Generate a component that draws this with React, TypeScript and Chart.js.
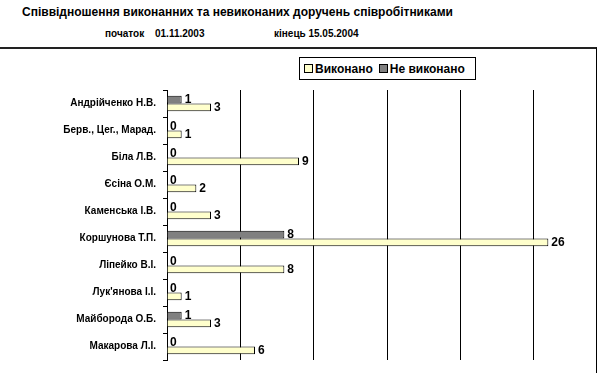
import React, { useEffect, useRef } from "react";
import { Chart, registerables } from "chart.js";

Chart.register(...registerables);

const categories = [
  "Андрійченко Н.В.",
  "Берв., Цег., Марад.",
  "Біла Л.В.",
  "Єсіна О.М.",
  "Каменська І.В.",
  "Коршунова Т.П.",
  "Ліпейко В.І.",
  "Лук'янова І.І.",
  "Майборода О.Б.",
  "Макарова Л.І.",
];
const doneValues = [3, 1, 9, 2, 3, 26, 8, 1, 3, 6];
const notDoneValues = [1, 0, 0, 0, 0, 8, 0, 0, 1, 0];
const seriesNames = ["Виконано", "Не виконано"];
const xMax = 30;
const xStep = 5;

const FONT = "'Liberation Sans', Arial, sans-serif";

const labelPlugin = {
  id: "barValueLabels",
  afterDatasetsDraw(chart: any) {
    const ctx = chart.ctx;
    ctx.save();
    ctx.font = `bold 12px ${FONT}`;
    ctx.fillStyle = "#000";
    ctx.textBaseline = "middle";
    ctx.textAlign = "left";
    chart.data.datasets.forEach((ds: any, di: number) => {
      const meta = chart.getDatasetMeta(di);
      meta.data.forEach((el: any, i: number) => {
        ctx.fillText(String(ds.data[i]), el.x + 3, el.y);
      });
    });
    ctx.restore();
  },
};

function ChartView() {
  const ref = useRef<HTMLCanvasElement>(null);
  useEffect(() => {
    if (!ref.current) return;
    const chart = new Chart(ref.current, {
      type: "bar",
      data: {
        labels: categories,
        datasets: [
          {
            label: seriesNames[1],
            data: notDoneValues,
            backgroundColor: "#808080",
            borderColor: "#000",
            borderWidth: 1,
            barPercentage: 1,
            categoryPercentage: 0.57,
          },
          {
            label: seriesNames[0],
            data: doneValues,
            backgroundColor: "#FFFFCC",
            borderColor: "#000",
            borderWidth: 1,
            barPercentage: 1,
            categoryPercentage: 0.57,
          },
        ],
      },
      options: {
        indexAxis: "y",
        responsive: false,
        animation: false,
        maintainAspectRatio: false,
        layout: { padding: { top: 90, left: 0, right: 13, bottom: 0 } },
        plugins: { legend: { display: false }, title: { display: false }, tooltip: { enabled: false } },
        scales: {
          x: {
            min: 0,
            max: xMax,
            ticks: { display: false, stepSize: xStep },
            grid: { color: "#000", drawTicks: false, lineWidth: 1 },
            border: { display: false },
          },
          y: {
            afterFit: (scale: any) => {
              scale.width = 167;
            },
            ticks: {
              color: "#000",
              font: { family: FONT, size: 10, weight: "bold" },
              padding: 7,
            },
            grid: { drawOnChartArea: false, color: "#000", tickLength: 4, offset: true },
            border: { color: "#000" },
          },
        },
      } as any,
      plugins: [labelPlugin],
    });
    return () => chart.destroy();
  }, []);
  return <canvas ref={ref} width={620} height={373} style={{ display: "block" }} />;
}

export default function App() {
  const bold = { fontFamily: FONT, fontWeight: "bold" as const, color: "#000", position: "absolute" as const, whiteSpace: "nowrap" as const };
  return (
    <div style={{ position: "fixed", left: 0, top: 0, width: 600, height: 373, overflow: "hidden", background: "#fff" }}>
      <div style={{ ...bold, left: 22, top: 5, fontSize: 12 }}>
        Співвідношення виконанних та невиконаних доручень співробітниками
      </div>
      <div style={{ ...bold, left: 105, top: 28, fontSize: 10 }}>початок</div>
      <div style={{ ...bold, left: 155, top: 28, fontSize: 10 }}>01.11.2003</div>
      <div style={{ ...bold, left: 274, top: 28, fontSize: 10 }}>кінець 15.05.2004</div>
      <div style={{ position: "absolute", left: 0, top: 0, width: 596, height: 373, overflow: "hidden" }}>
        <ChartView />
      </div>
      <div
        style={{
          position: "absolute",
          left: 0,
          top: 47,
          width: 596,
          height: 400,
          borderTop: "2px solid #222",
          borderRight: "1px solid #000",
          pointerEvents: "none",
        }}
      />
      <div
        style={{
          position: "absolute",
          left: 299,
          top: 57,
          width: 175,
          height: 21,
          border: "1px solid #000",
          background: "#fff",
          display: "flex",
          alignItems: "center",
          fontFamily: FONT,
          fontWeight: "bold",
          fontSize: 12,
        }}
      >
        <span style={{ display: "inline-block", width: 7, height: 7, border: "1px solid #000", background: "#FFFFCC", marginLeft: 4, marginRight: 2 }} />
        <span>{seriesNames[0]}</span>
        <span style={{ display: "inline-block", width: 7, height: 7, border: "1px solid #000", background: "#808080", marginLeft: 6, marginRight: 2 }} />
        <span>{seriesNames[1]}</span>
      </div>
    </div>
  );
}
